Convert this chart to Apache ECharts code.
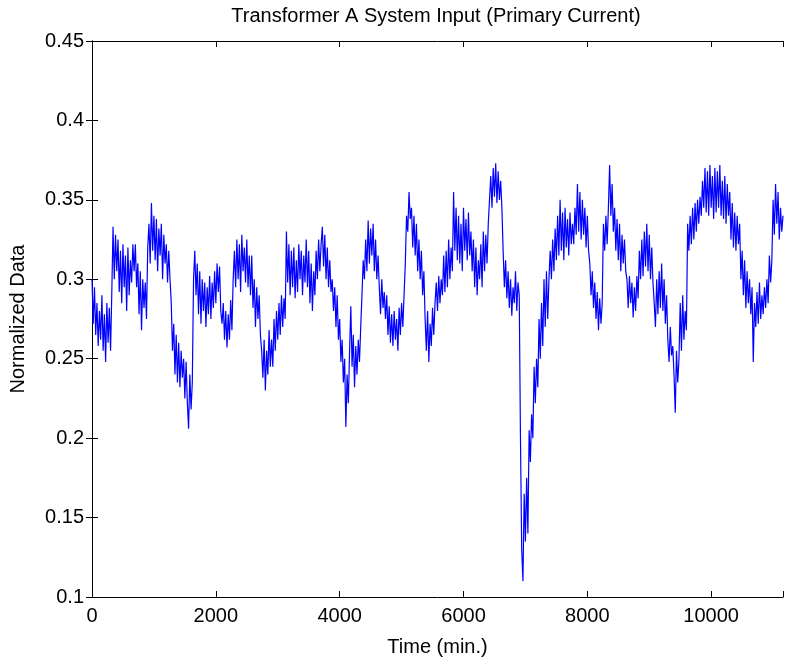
<!DOCTYPE html>
<html>
<head>
<meta charset="utf-8">
<script src="https://cdn.jsdelivr.net/npm/echarts@6/dist/echarts.min.js"></script>
<style>
html,body{margin:0;padding:0;background:#fff;}
#chart{width:786px;height:662px;}
</style>
</head>
<body>
<div id="chart"></div>
<script>
// Sampling step of the time axis (minutes between plotted readings)
const sampleStep = 20;
const xMin = 0;
const xMax = 11160;
const xTickStep = 2000;
const xLastTick = 10000;
const yMin = 0.1;
const yMax = 0.45;
const yTickStep = 0.05;
const titleText = 'Transformer A System Input (Primary Current)';
const xName = 'Time (min.)';
const yName = 'Normalized Data';

// Normalized primary current
const primaryCurrent = [
0.300,0.272,0.295,0.265,0.285,0.258,0.280,0.262,0.290,0.255,0.278,0.248,0.285,0.260,0.282,0.255,
0.292,0.333,0.300,0.328,0.305,0.325,0.292,0.318,0.285,0.322,0.295,0.315,0.280,0.320,0.290,0.312,0.298,0.322,
0.305,0.322,0.295,0.310,0.278,0.305,0.268,0.300,0.282,0.298,0.275,
0.320,0.335,0.310,0.348,0.318,0.340,0.312,0.338,0.305,0.332,0.315,0.335,0.300,0.328,0.310,0.322,0.298,0.318,0.300,
0.285,0.255,0.272,0.240,0.265,0.235,0.260,0.232,0.255,0.238,0.250,0.225,0.248,0.222,0.206,0.240,0.218,0.235,
0.300,0.318,0.290,0.310,0.278,0.305,0.272,0.300,0.280,0.298,0.270,0.295,0.278,0.302,0.275,0.298,0.282,0.305,0.285,0.310,0.292,0.308,0.280,
0.272,0.285,0.262,0.280,0.257,0.278,0.262,0.287,0.268,
0.300,0.318,0.295,0.325,0.300,0.322,0.292,0.328,0.305,0.320,0.298,0.325,0.295,0.315,0.290,
0.315,0.282,0.300,0.270,0.295,0.275,0.290,0.265,
0.255,0.238,0.262,0.230,0.255,0.240,0.268,0.245,
0.262,0.245,0.275,0.255,0.280,0.262,0.285,0.265,0.290,0.270,0.288,0.275,
0.330,0.298,0.322,0.290,0.318,0.295,0.320,0.288,0.312,0.292,0.322,0.300,0.318,0.290,0.315,0.298,0.325,0.295,0.318,0.285,0.310,
0.280,0.305,0.290,0.318,0.300,0.325,0.305,0.322,0.333,0.308,0.328,0.300,0.320,0.295,0.312,0.292,
0.300,0.280,0.295,0.270,0.290,0.262,0.275,0.248,0.262,0.235,0.250,0.207,0.240,0.222,0.255,0.283,0.245,0.265,0.232,0.258,0.240,0.262,0.248,0.270,
0.290,0.312,0.300,0.325,0.305,0.337,0.310,0.332,0.315,0.335,0.305,0.325,0.300,0.315,
0.295,0.278,0.300,0.282,0.292,0.275,0.290,0.265,0.283,0.260,0.278,0.258,0.280,0.262,0.275,0.255,0.282,0.265,0.285,0.270,0.290,
0.310,0.340,0.330,0.355,0.338,
0.345,0.320,0.340,0.315,0.335,0.305,0.325,0.300,0.318,0.290,0.305,
0.275,0.255,0.280,0.248,0.272,0.258,0.282,0.265,0.285,
0.298,0.280,0.302,0.285,0.300,0.290,0.315,0.292,0.318,0.295,0.325,0.300,0.320,0.305,
0.355,0.318,0.345,0.312,0.340,0.310,0.335,0.305,0.345,0.318,0.338,0.312,0.342,0.315,0.330,0.305,
0.325,0.295,0.320,0.290,0.312,0.300,0.322,0.295,0.330,0.305,0.328,0.310,0.335,
0.350,0.365,0.345,0.370,0.352,0.373,0.348,0.368,0.350,0.362,0.345,
0.318,0.295,0.312,0.288,0.305,0.282,0.300,0.277,0.295,0.285,0.305,0.280,0.298,0.290,
0.200,0.130,0.110,0.165,0.135,0.175,0.140,0.205,0.185,0.215,0.200,0.245,0.222,0.250,0.232,0.275,0.250,0.285,0.258,0.300,0.270,0.305,0.275,0.300,
0.318,0.300,0.325,0.305,0.332,0.312,0.340,0.315,0.350,0.318,0.342,0.312,0.345,0.320,0.338,0.315,0.342,0.322,0.335,
0.322,0.345,0.328,0.360,0.330,0.355,0.325,0.350,0.328,0.345,0.320,0.340,0.318,
0.310,0.290,0.305,0.282,0.298,0.275,0.292,0.268,0.288,0.272,0.285,
0.335,0.318,0.340,0.322,0.345,0.372,0.340,0.360,
0.330,0.345,0.318,0.338,0.312,0.335,0.305,0.328,0.310,0.325,0.305,
0.300,0.282,0.302,0.285,0.298,0.276,0.295,0.280,0.302,0.288,
0.318,0.300,0.325,0.302,0.330,0.308,0.335,0.305,0.328,0.300,0.320,0.298,
0.285,0.270,0.300,0.278,0.305,0.282,0.310,0.280,0.300,0.272,0.290,
0.262,0.248,0.270,0.252,0.258,0.240,0.216,0.255,0.235,0.250,0.285,0.255,0.290,0.262,0.280,0.268,
0.335,0.318,0.340,0.322,0.345,0.325,0.348,0.330,0.350,0.335,0.352,
0.340,0.362,0.345,0.370,0.342,0.368,0.340,0.372,0.345,0.365,0.338,0.370,0.342,0.368,0.345,0.372,0.340,0.362,0.338,0.365,0.335,0.360,0.340,0.355,
0.325,0.348,0.320,0.342,0.318,0.340,0.322,0.335,
0.300,0.318,0.290,0.312,0.282,0.305,0.285,0.300,0.278,0.295,
0.248,0.285,0.270,0.292,0.272,0.298,0.275,0.290,0.278,0.295,0.282,
0.300,0.285,0.315,0.298,0.312,
0.350,0.328,0.360,0.335,0.355,0.325,0.345,0.330,0.340
];

const seriesData = primaryCurrent.map((v, i) => [i * sampleStep, v]);

const font = 'Liberation Sans, Arial, Helvetica, sans-serif';
const axisCommon = {
  axisLine: { show: true, lineStyle: { color: '#000', width: 1 } },
  axisTick: { show: true, inside: true, length: 6, lineStyle: { color: '#000', width: 1 } },
  splitLine: { show: false }
};

const chart = echarts.init(document.getElementById('chart'), null, { renderer: 'canvas' });
chart.setOption({
  animation: false,
  backgroundColor: '#fff',
  graphic: [{
    type: 'text',
    x: 436, y: 16,
    style: {
      text: titleText, fill: '#000', font: '20px ' + font,
      textAlign: 'center', textVerticalAlign: 'middle'
    }
  }],
  grid: { left: 87, right: 1, top: 41, bottom: 63, containLabel: false },
  xAxis: [
    Object.assign({
      type: 'value', min: xMin, max: xMax, interval: xTickStep,
      position: 'bottom',
      name: xName, nameLocation: 'middle', nameGap: 40,
      nameTextStyle: { color: '#000', fontSize: 20, fontFamily: font },
      axisLabel: {
        color: '#000', fontSize: 20, fontFamily: font, margin: 9,
        formatter: v => (v % xTickStep === 0 && v <= xLastTick) ? String(v) : ''
      }
    }, axisCommon),
    Object.assign({
      type: 'value', min: xMin, max: xMax, interval: xTickStep,
      position: 'top', axisLabel: { show: false }
    }, axisCommon)
  ],
  yAxis: [
    Object.assign({
      type: 'value', min: yMin, max: yMax, interval: yTickStep,
      position: 'left',
      name: yName, nameLocation: 'middle', nameGap: 64, nameRotate: 90,
      nameTextStyle: { color: '#000', fontSize: 20, fontFamily: font },
      axisLabel: {
        color: '#000', fontSize: 20, fontFamily: font, margin: 8,
        formatter: v => String(+v.toFixed(2))
      }
    }, axisCommon),
    Object.assign({
      type: 'value', min: yMin, max: yMax, interval: yTickStep,
      position: 'right', axisLabel: { show: false }
    }, axisCommon)
  ],
  series: [{
    type: 'line',
    xAxisIndex: 0, yAxisIndex: 0,
    data: seriesData,
    showSymbol: false,
    symbol: 'none',
    sampling: null,
    lineStyle: { color: '#0000ff', width: 1.2 },
    silent: true
  }]
});
</script>
</body>
</html>
